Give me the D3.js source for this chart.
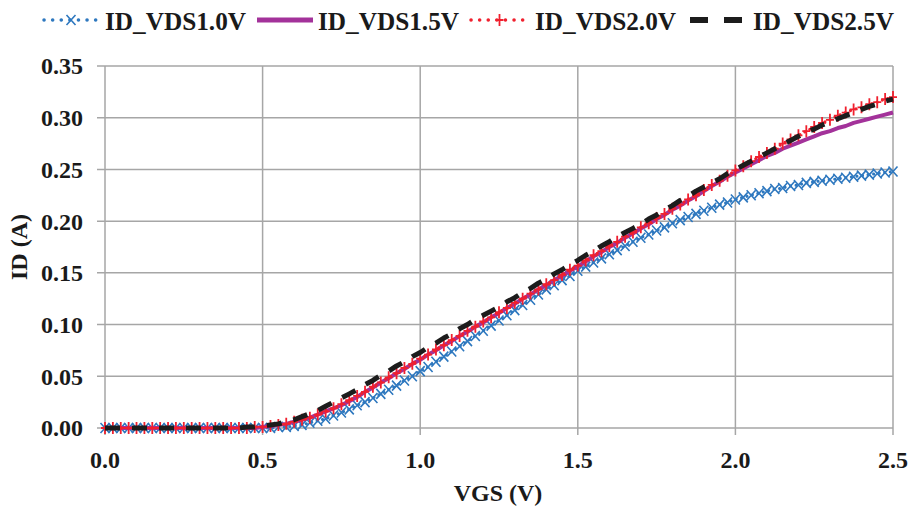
<!DOCTYPE html>
<html>
<head>
<meta charset="utf-8">
<script src="https://cdn.jsdelivr.net/npm/d3@7"></script>
<style>
  body { margin: 0; background: #fff; }
  svg { display: block; }
  text { font-family: "Liberation Serif", "Times New Roman", serif; font-weight: bold; fill: #1a1a1a; }
</style>
</head>
<body>
<div id="chart"><svg></svg></div>
<script>
// VGS sweep, 0.025 V steps
var vgs = d3.range(0, 101).map(function(i) { return +(i * 0.025).toFixed(3); });

var idVds10 = [
  0,0,0,0,0,0,0,0,0,0, 0,0,0,0,0,0,0,0,0,0, 0,0,0.001,0.001,0.002,0.003,0.005,0.007,0.009,0.012,
  0.015,0.018,0.022,0.025,0.029,0.033,0.037,0.041,0.046,0.050, 0.055,0.059,0.064,0.069,0.074,0.079,0.084,0.089,0.094,0.099,
  0.104,0.109,0.114,0.119,0.124,0.129,0.134,0.138,0.143,0.147, 0.152,0.156,0.160,0.164,0.168,0.172,0.176,0.180,0.184,0.187,
  0.191,0.194,0.198,0.201,0.204,0.207,0.210,0.213,0.216,0.218, 0.221,0.223,0.225,0.227,0.229,0.231,0.232,0.234,0.235,0.237,
  0.238,0.239,0.240,0.241,0.242,0.243,0.244,0.245,0.246,0.247, 0.248
];
var idVds15 = [
  0,0,0,0,0,0,0,0,0,0, 0,0,0,0,0,0,0,0,0,0, 0.001,0.002,0.003,0.004,0.006,0.008,0.010,0.013,0.016,0.019,
  0.022,0.026,0.030,0.035,0.039,0.044,0.048,0.053,0.057,0.062, 0.066,0.071,0.075,0.080,0.084,0.089,0.093,0.098,0.102,0.107,
  0.111,0.116,0.120,0.125,0.129,0.134,0.138,0.143,0.147,0.152, 0.156,0.161,0.166,0.170,0.175,0.179,0.184,0.188,0.193,0.197,
  0.202,0.206,0.211,0.215,0.220,0.224,0.229,0.234,0.238,0.243, 0.247,0.251,0.255,0.259,0.263,0.266,0.270,0.273,0.276,0.279,
  0.282,0.285,0.287,0.290,0.292,0.295,0.297,0.299,0.301,0.303, 0.305
];
var idVds20 = [
  0,0,0,0,0,0,0,0,0,0, 0,0,0,0,0,0,0,0,0,0.001, 0.001,0.002,0.003,0.004,0.006,0.008,0.010,0.013,0.016,0.019,
  0.023,0.027,0.031,0.035,0.040,0.044,0.049,0.053,0.058,0.062, 0.067,0.071,0.076,0.080,0.085,0.089,0.094,0.098,0.103,0.107,
  0.112,0.116,0.121,0.125,0.130,0.134,0.139,0.143,0.148,0.153, 0.157,0.162,0.167,0.171,0.176,0.180,0.185,0.189,0.194,0.198,
  0.203,0.207,0.212,0.216,0.221,0.225,0.230,0.235,0.239,0.244, 0.249,0.253,0.258,0.262,0.266,0.270,0.275,0.279,0.283,0.287,
  0.291,0.295,0.298,0.302,0.305,0.308,0.310,0.313,0.315,0.318, 0.320
];
var idVds25 = [
  0,0,0,0,0,0,0,0,0,0, 0,0,0,0,0,0,0,0,0.001,0.001, 0.002,0.003,0.004,0.006,0.008,0.011,0.014,0.017,0.021,0.025,
  0.029,0.033,0.037,0.042,0.046,0.051,0.055,0.060,0.064,0.069, 0.073,0.078,0.082,0.087,0.091,0.096,0.100,0.105,0.109,0.113,
  0.117,0.122,0.126,0.131,0.135,0.140,0.144,0.149,0.153,0.158, 0.162,0.167,0.171,0.176,0.180,0.185,0.189,0.193,0.197,0.202,
  0.206,0.211,0.215,0.220,0.224,0.229,0.233,0.237,0.241,0.246, 0.250,0.254,0.258,0.262,0.266,0.270,0.274,0.278,0.282,0.286,
  0.289,0.293,0.296,0.299,0.302,0.305,0.308,0.311,0.313,0.316, 0.318
];

var seriesNames = ["ID_VDS1.0V", "ID_VDS1.5V", "ID_VDS2.0V", "ID_VDS2.5V"];
var xTicks = [0, 0.5, 1.0, 1.5, 2.0, 2.5];
var yTicks = [0, 0.05, 0.10, 0.15, 0.20, 0.25, 0.30, 0.35];

var width = 910, height = 509;
var margin = {top: 66, right: 17, bottom: 81, left: 105};

var styles = [
  {color: "#2e78bf", width: 3, dash: "0.1 5.5", cap: "round", marker: "x"},
  {color: "#a3329a", width: 4, dash: null, cap: "butt", marker: null},
  {color: "#f0202e", width: 3, dash: "0.1 5.5", cap: "round", marker: "plus"},
  {color: "#1c1c1c", width: 5, dash: "15 12", cap: "butt", marker: null}
];
var seriesData = [idVds10, idVds15, idVds20, idVds25];

var svg = d3.select("#chart svg").attr("width", width).attr("height", height);

var x = d3.scaleLinear().domain([0, 2.5]).range([margin.left, width - margin.right]);
var y = d3.scaleLinear().domain([0, 0.35]).range([height - margin.bottom, margin.top]);

// grid
var grid = svg.append("g").attr("stroke", "#a6a6a6").attr("stroke-width", 1.5);
grid.selectAll(".hg").data(yTicks).enter().append("line")
  .attr("x1", x(0) - 8).attr("x2", x(2.5))
  .attr("y1", function(d) { return y(d); }).attr("y2", function(d) { return y(d); });
grid.selectAll(".vg").data(xTicks).enter().append("line")
  .attr("y1", y(0) + 7).attr("y2", y(0.35))
  .attr("x1", function(d) { return x(d); }).attr("x2", function(d) { return x(d); });

// tick labels
svg.append("g").selectAll("text").data(yTicks).enter().append("text")
  .attr("x", 83).attr("y", function(d) { return y(d); })
  .attr("dy", "0.35em").attr("text-anchor", "end")
  .style("font-size", "24px")
  .text(function(d) { return d3.format(".2f")(d); });
svg.append("g").selectAll("text").data(xTicks).enter().append("text")
  .attr("x", function(d) { return x(d); }).attr("y", 468)
  .attr("text-anchor", "middle")
  .style("font-size", "24px")
  .text(function(d) { return d3.format(".1f")(d); });

// axis titles
svg.append("text").attr("x", (x(0) + x(2.5)) / 2 - 1).attr("y", 501)
  .attr("text-anchor", "middle").style("font-size", "24px").text("VGS (V)");
svg.append("text").attr("transform", "translate(27," + ((y(0) + y(0.35)) / 2) + ") rotate(-90)")
  .attr("text-anchor", "middle").style("font-size", "24px").text("ID (A)");

function drawMarker(g, type, cx, cy, color) {
  if (type === "x") {
    g.append("path").attr("d", "M" + (cx - 4.5) + "," + (cy - 5) + "L" + (cx + 4.5) + "," + (cy + 5) +
        "M" + (cx + 4.5) + "," + (cy - 5) + "L" + (cx - 4.5) + "," + (cy + 5))
      .attr("stroke", color).attr("stroke-width", 1.6).attr("fill", "none");
  } else if (type === "plus") {
    g.append("path").attr("d", "M" + cx + "," + (cy - 6) + "L" + cx + "," + (cy + 6) +
        "M" + (cx - 4) + "," + cy + "L" + (cx + 4) + "," + cy)
      .attr("stroke", color).attr("stroke-width", 1.8).attr("fill", "none");
  }
}

var line = d3.line().x(function(d) { return x(d[0]); }).y(function(d) { return y(d[1]); });

seriesData.forEach(function(vals, k) {
  var st = styles[k];
  var pts = vgs.map(function(v, i) { return [v, vals[i]]; });
  var g = svg.append("g");
  var p = g.append("path").datum(pts).attr("d", line)
    .attr("fill", "none").attr("stroke", st.color).attr("stroke-width", st.width)
    .attr("stroke-linecap", st.cap).attr("stroke-linejoin", "round");
  if (st.dash) p.attr("stroke-dasharray", st.dash);
  if (st.marker) {
    pts.forEach(function(d) { drawMarker(g, st.marker, x(d[0]), y(d[1]), st.color); });
  }
});

// legend: sample spans and text start positions
var legendSample = [[44, 96], [257, 313], [471, 526], [690, 742]];
var legendTextX = [105, 318, 535, 753];
var legend = svg.append("g");
seriesNames.forEach(function(name, k) {
  var st = styles[k];
  var x0 = legendSample[k][0], x1 = legendSample[k][1], ly = 20;
  var p = legend.append("line").attr("x1", x0).attr("x2", x1).attr("y1", ly).attr("y2", ly)
    .attr("stroke", st.color).attr("stroke-width", k === 3 ? 6 : (k === 1 ? 5 : 3.5))
    .attr("stroke-linecap", st.cap);
  if (k === 0 || k === 2) p.attr("stroke-dasharray", "0.1 8.5");
  if (k === 3) p.attr("stroke-dasharray", "18 16");
  if (st.marker) drawMarker(legend, st.marker, (x0 + x1) / 2 + 1, ly, st.color);
  legend.append("text").attr("x", legendTextX[k]).attr("y", ly + 1).attr("dy", "0.35em")
    .attr("textLength", 141).attr("lengthAdjust", "spacingAndGlyphs")
    .style("font-size", "26px").text(name);
});
</script>
</body>
</html>
